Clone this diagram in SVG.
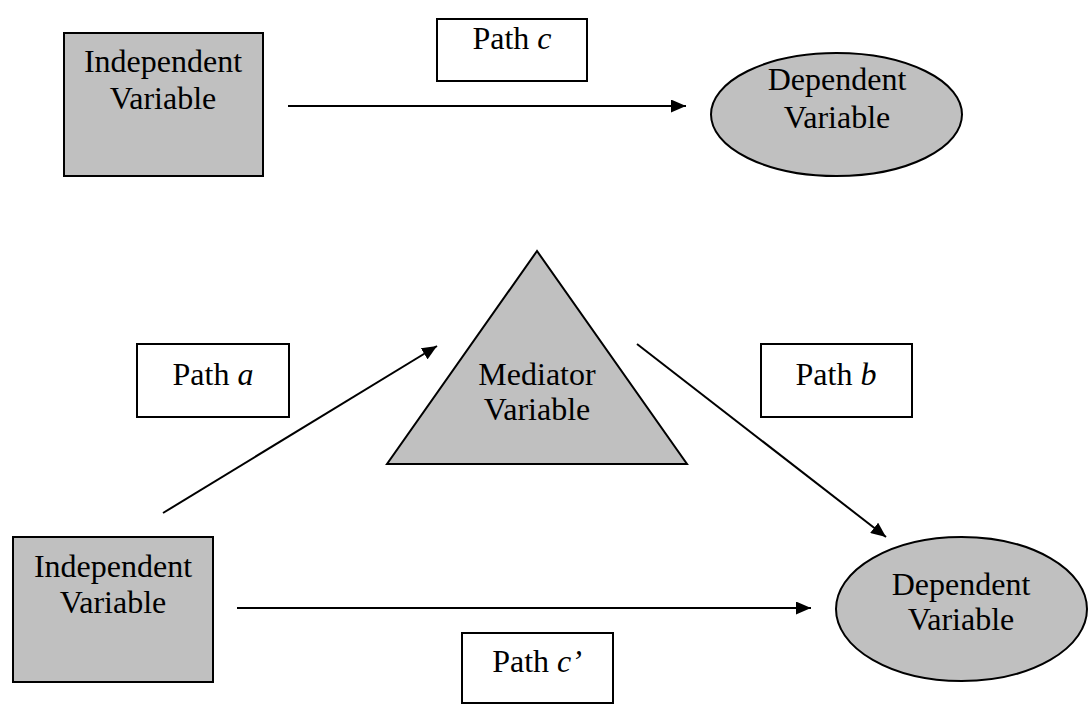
<svg xmlns="http://www.w3.org/2000/svg" width="1092" height="705" viewBox="0 0 1092 705">
<style>
.node{fill:#c0c0c0;stroke:#000;stroke-width:2}
.lbl{fill:#fff;stroke:#000;stroke-width:2}
text{font-family:"Liberation Serif","Times New Roman",serif;font-size:32px;fill:#000;text-anchor:middle}
.conn{stroke:#000;stroke-width:2;fill:none}
</style>
<defs>
<marker id="arr" markerWidth="15" markerHeight="13" refX="15" refY="6.5" orient="auto" markerUnits="userSpaceOnUse" viewBox="0 0 15 13">
<path d="M0,0 L15,6.5 L0,13 Z" fill="#000"/>
</marker>
</defs>
<rect width="1092" height="705" fill="#fff"/>
<g id="iv-top">
<rect class="node" x="64" y="33" width="199" height="143"/>
<text x="163" y="72">Independent</text>
<text x="163" y="109">Variable</text>
</g>
<g id="dv-top">
<ellipse class="node" cx="836.5" cy="114.5" rx="125.5" ry="61.5"/>
<text x="837" y="90">Dependent</text>
<text x="837" y="128">Variable</text>
</g>
<g id="label-c">
<rect class="lbl" x="437" y="19" width="150" height="62"/>
<text x="512" y="49">Path <tspan font-style="italic">c</tspan></text>
</g>
<g id="mediator">
<polygon class="node" points="537,251 387,464 687,464"/>
<text x="537" y="385">Mediator</text>
<text x="537" y="420">Variable</text>
</g>
<g id="label-a">
<rect class="lbl" x="137" y="344" width="152" height="73"/>
<text x="213" y="385">Path <tspan font-style="italic">a</tspan></text>
</g>
<g id="label-b">
<rect class="lbl" x="761" y="344" width="151" height="73"/>
<text x="836" y="385">Path <tspan font-style="italic">b</tspan></text>
</g>
<g id="iv-bottom">
<rect class="node" x="13" y="537" width="200" height="145"/>
<text x="113" y="577">Independent</text>
<text x="113" y="613">Variable</text>
</g>
<g id="dv-bottom">
<ellipse class="node" cx="961.5" cy="609" rx="125.5" ry="72"/>
<text x="961" y="595">Dependent</text>
<text x="961" y="630">Variable</text>
</g>
<g id="label-cprime">
<rect class="lbl" x="462" y="633" width="151" height="70"/>
<text x="537" y="672">Path <tspan font-style="italic">c’</tspan></text>
</g>
<g id="connectors">
<line class="conn" x1="288" y1="106" x2="686" y2="106" marker-end="url(#arr)"/>
<line class="conn" x1="163" y1="513" x2="437" y2="346" marker-end="url(#arr)"/>
<line class="conn" x1="637" y1="344" x2="886" y2="537" marker-end="url(#arr)"/>
<line class="conn" x1="237" y1="608" x2="811" y2="608" marker-end="url(#arr)"/>
</g>
</svg>
